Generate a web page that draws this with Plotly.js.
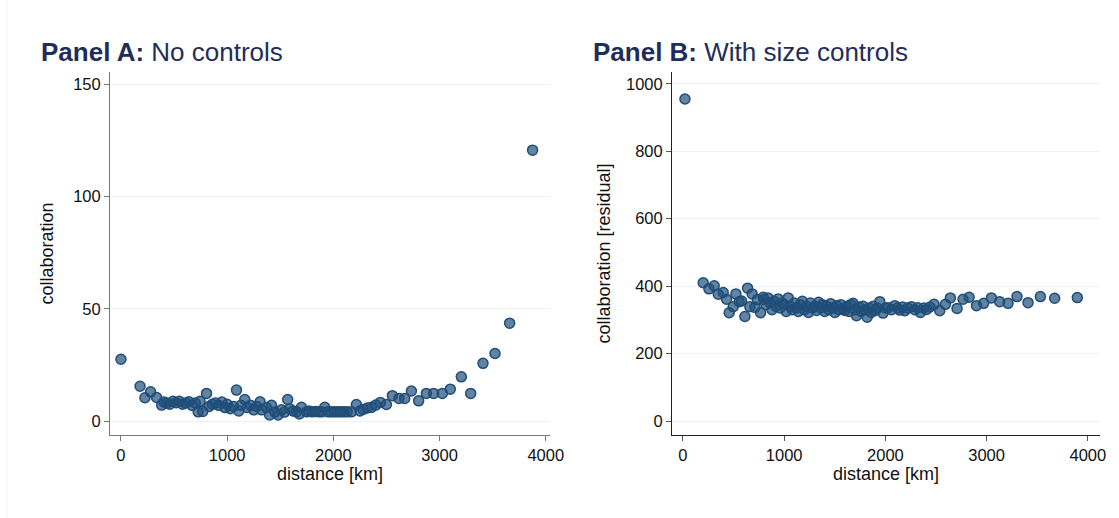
<!DOCTYPE html>
<html>
<head>
<meta charset="utf-8">
<script src="https://cdn.plot.ly/plotly-3.0.1.min.js"></script>
<style>html,body{margin:0;padding:0;background:#fff;}#chart{width:1119px;height:518px;}</style>
</head>
<body>
<div id="chart"></div>
<script>
// Panel A: No controls
const distA = [0,180,226,279,336,383,405,430,460,490,520,550,580,610,640,670,700,727,745,770,806,830,860,890,920,950,980,1000,1030,1060,1088,1110,1130,1166,1190,1220,1250,1280,1310,1324,1370,1400,1418,1450,1480,1512,1540,1570,1590,1620,1653,1680,1700,1747,1770,1800,1830,1860,1890,1919,1950,1980,2010,2040,2070,2100,2130,2170,2217,2250,2280,2320,2359,2399,2443,2499,2556,2618,2672,2735,2803,2876,2944,3026,3101,3205,3293,3409,3522,3660,3876];
const collabA = [27.5,15.5,10.4,13,10.5,7.1,8.5,8,7.5,8.8,8.2,8.8,7.5,8,8.6,7,8,4.1,8.8,4.3,12.3,6.5,7.5,8,7,8.5,6,7.5,5.5,6.5,13.8,4.5,7,9.6,6,7,5,6.5,8.6,5,6,2.7,7,4,2.7,5,4,9.6,5.5,4.5,4.1,3.2,6.1,4.1,4.5,4.1,4.3,4.1,4.1,6.1,4.1,4.1,4.1,4.1,4.1,4.1,4.1,4.1,7.4,4.5,5.2,5.8,6.1,7.1,8.3,7.4,11.3,10.1,10.1,13.4,9.0,12.3,12.3,12.3,14.2,19.7,12.3,25.7,30.1,43.6,120.6];

// Panel B: With size controls
const distB = [20,200,257,309,349,398,431,457,497,523,556,580,612,639,661,684,711,735,767,793,800,820,840,860,880,900,920,940,960,980,1000,1020,1040,1060,1080,1100,1120,1140,1160,1180,1200,1220,1240,1260,1280,1300,1320,1340,1360,1380,1400,1420,1440,1460,1480,1500,1520,1540,1560,1580,1600,1620,1640,1660,1681,1700,1715,1740,1760,1780,1800,1820,1840,1860,1880,1900,1920,1945,1977,2000,2027,2060,2093,2120,2142,2170,2192,2220,2258,2290,2320,2346,2380,2406,2440,2481,2537,2593,2642,2708,2767,2827,2900,2971,3047,3129,3212,3300,3409,3531,3672,3896];
const residB = [955,410,392,401,376,381,361,321,339,377,354,356,310,394,339,377,337,360,321,367,360,345,365,350,330,355,340,362,335,350,345,325,365,340,330,350,335,325,345,355,330,340,322,350,335,340,328,352,335,345,325,340,330,348,335,322,342,330,345,333,328,340,325,345,349,330,312,338,325,340,330,308,335,322,340,328,335,354,320,335,336,330,342,335,329,338,327,335,339,330,336,322,335,331,338,346,327,346,365,334,361,367,342,349,365,354,349,369,351,369,364,366];

const W = 1119, H = 518;
const px = v => v / W;
const py = v => 1 - v / H;

const markerStyle = {
  size: 10,
  color: 'rgba(31,78,121,0.70)',
  line: {color: '#1f4e79', width: 1.5}
};
const FAM = 'Liberation Sans, Arial, sans-serif';
const tickFont = {family: FAM, size: 16.5, color: '#111'};
const titleFont = {family: FAM, size: 18, color: '#111'};

const traces = [
  {x: distA, y: collabA, type: 'scatter', mode: 'markers', marker: markerStyle, xaxis: 'x', yaxis: 'y', hoverinfo: 'x+y'},
  {x: distB, y: residB, type: 'scatter', mode: 'markers', marker: markerStyle, xaxis: 'x2', yaxis: 'y2', hoverinfo: 'x+y'}
];

const axisCommon = {
  showline: true, ticks: 'outside', ticklen: 5, tickwidth: 1,
  tickfont: tickFont, zeroline: false
};

const layout = {
  width: W, height: H,
  margin: {l: 0, r: 0, t: 0, b: 0, autoexpand: false},
  paper_bgcolor: '#fff', plot_bgcolor: '#fff',
  showlegend: false,
  font: tickFont,
  xaxis: Object.assign({}, axisCommon, {
    domain: [px(110), px(550)], range: [-103, 4040], anchor: 'y',
    tickvals: [0,1000,2000,3000,4000], showgrid: false,
    linecolor: '#777', tickcolor: '#777',
    title: {text: 'distance [km]', font: titleFont, standoff: 2}
  }),
  yaxis: Object.assign({}, axisCommon, {
    domain: [py(435), py(72)], range: [-6.2, 155.4], anchor: 'x',
    tickvals: [0,50,100,150], showgrid: true, gridcolor: '#edf1f4',
    linecolor: '#777', tickcolor: '#777',
    title: {text: 'collaboration', font: titleFont, standoff: 14}
  }),
  xaxis2: Object.assign({}, axisCommon, {
    domain: [px(672), px(1100)], range: [-108, 4120], anchor: 'y2',
    tickvals: [0,1000,2000,3000,4000], showgrid: false,
    linecolor: '#222', tickcolor: '#555',
    title: {text: 'distance [km]', font: titleFont, standoff: 2}
  }),
  yaxis2: Object.assign({}, axisCommon, {
    domain: [py(435), py(72)], range: [-41.5, 1035], anchor: 'x2',
    tickvals: [0,200,400,600,800,1000], showgrid: true, gridcolor: '#edf1f4',
    linecolor: '#222', tickcolor: '#555',
    title: {text: 'collaboration [residual]', font: titleFont, standoff: 10}
  }),
  annotations: [
    {text: '<b>Panel A:</b> No controls', xref: 'paper', yref: 'paper', x: px(39), y: py(52),
     xanchor: 'left', yanchor: 'middle', showarrow: false,
     font: {family: FAM, size: 26, color: '#1f2d5a'}},
    {text: '<b>Panel B:</b> With size controls', xref: 'paper', yref: 'paper', x: px(591), y: py(52),
     xanchor: 'left', yanchor: 'middle', showarrow: false,
     font: {family: FAM, size: 26, color: '#1f2d5a'}}
  ],
  shapes: [
    {type: 'line', xref: 'paper', yref: 'paper', x0: px(7), x1: px(7), y0: 0, y1: 1,
     line: {color: '#f2f2f2', width: 1}}
  ]
};

Plotly.newPlot('chart', traces, layout, {displayModeBar: false, staticPlot: true});
</script>
</body>
</html>
